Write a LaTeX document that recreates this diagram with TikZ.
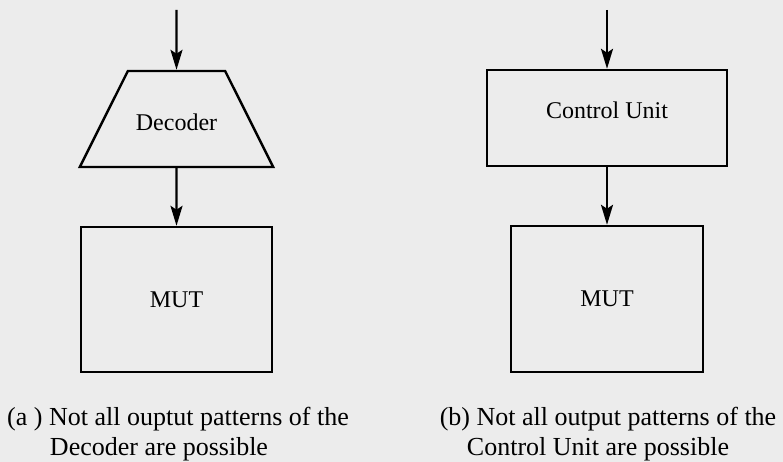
\documentclass[tikz,border=0pt]{standalone}
\usepackage{fontspec}
\setmainfont{Liberation Serif}
\usetikzlibrary{shapes.geometric,arrows.meta}
\definecolor{paper}{RGB}{236,236,236}
\tikzset{
  blk/.style={draw=black, line width=2.4pt, inner sep=0pt, font=\fontsize{24}{28}\selectfont},
  arr/.style={line width=2.4pt, -{Stealth[length=20pt,width=12pt,inset=4pt]}},
  captxt/.style={anchor=base, inner sep=0pt, font=\fontsize{26}{30}\selectfont}
}
\begin{document}
\begin{tikzpicture}[x=1pt,y=-1pt]
\fill[paper] (0,0) rectangle (783,462);
\useasboundingbox (0,0) rectangle (783,462);
% (a) decoder
\coordinate (ina) at (176.5,10);
\node[blk, trapezium, trapezium left angle=63.4, trapezium right angle=63.4,
  inner xsep=8pt, inner ysep=48pt] (dec) at (176.5,119) {\raisebox{-12pt}[0pt][0pt]{Decoder}};
\node[blk, minimum width=191pt, minimum height=145pt] (muta) at (176.5,299.5) {MUT};
\draw[arr] (ina) -- (dec.north);
\draw[arr] (dec.south) -- (muta.north);
\node[captxt] (capa1) at (178,425) {(a ) Not all ouptut patterns of the};
\node[captxt] (capa2) at (159,455) {Decoder are possible};
% (b) control unit
\coordinate (inb) at (607,10);
\node[blk, minimum width=240pt, minimum height=96pt] (cu) at (607,118) {\raisebox{-1pt}[0pt][0pt]{Control Unit}};
\node[blk, minimum width=192pt, minimum height=146pt] (mutb) at (607,299) {MUT};
\draw[arr] (inb) -- (cu.north);
\draw[arr] (cu.south) -- (mutb.north);
\node[captxt] (capb1) at (608,425) {(b) Not all output patterns of the};
\node[captxt] (capb2) at (598,455) {Control Unit are possible};
\end{tikzpicture}
\end{document}
